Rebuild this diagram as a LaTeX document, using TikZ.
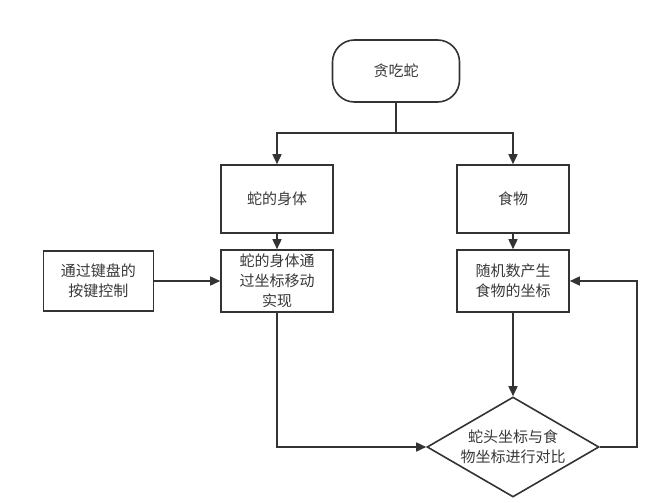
\documentclass[tikz,border=0pt]{standalone}
\usepackage{fontspec}
\newfontfamily\cjk{Noto Sans CJK SC}
\usetikzlibrary{positioning}
\usetikzlibrary{arrows.meta}
\usetikzlibrary{shapes.geometric}
\definecolor{linegray}{HTML}{333333}
\definecolor{textgray}{HTML}{383838}
\tikzset{
  startnode/.style= {
    rectangle,
    rounded corners = 22pt,
    draw = linegray,
    line width = 1.6pt,
    minimum width = 127pt,
    minimum height = 62pt,
    text = textgray,
    font = \cjk\fontsize{15pt}{20pt}\selectfont
  },
  stepbox/.style= {
    rectangle,
    draw = linegray,
    line width = 1.6pt,
    minimum width = 112pt,
    minimum height = #1,
    align = center,
    inner sep = 0pt,
    text = textgray,
    font = \cjk\fontsize{15pt}{20pt}\selectfont
  },
  decision/.style= {
    diamond,
    aspect = 1.72,
    draw = linegray,
    line width = 1.6pt,
    minimum width = 172pt,
    minimum height = 100pt,
    align = center,
    inner sep = 0pt,
    text = textgray,
    font = \cjk\fontsize{15pt}{20pt}\selectfont
  },
  flow/.style= {
    draw = linegray,
    line width = 1.6pt,
    -{Triangle[length=10pt,width=9pt]}
  }
}

\begin{document}
\begin{tikzpicture}[x=1pt,y=-1pt]
  \useasboundingbox (0,0) rectangle (661,503);

  \node[startnode] (start) at (396,71) {贪吃蛇};
  \coordinate (split) at (396,133);

  \node[stepbox=68pt] (body) at (277,199) {蛇的身体};
  \node[stepbox=68pt] (food) at (513,199) {食物};

  \node[stepbox=62pt] (move) at (277,281) {蛇的身体通\\过坐标移动\\实现};
  \node[stepbox=62pt] (rand) at (513,281) {随机数产生\\食物的坐标};
  \node[stepbox=60pt,minimum width=110pt,left=66pt of move] (keys) {通过键盘的\\按键控制};

  \node[decision] (cmp) at (513,447) {蛇头坐标与食\\物坐标进行对比};
  \coordinate (back) at (637,447);

  \draw[line width=1.6pt,draw=linegray] (start) -- (split);
  \draw[flow] (split) -| (body);
  \draw[flow] (split) -| (food);
  \draw[flow] (body) -- (move);
  \draw[flow] (food) -- (rand);
  \draw[flow] (keys) -- (move);
  \draw[flow] (rand) -- (cmp);
  \draw[flow] (move.south) |- (cmp.west);
  \draw[flow] (cmp.east) -- (back) |- (rand.east);

\end{tikzpicture}
\end{document}
